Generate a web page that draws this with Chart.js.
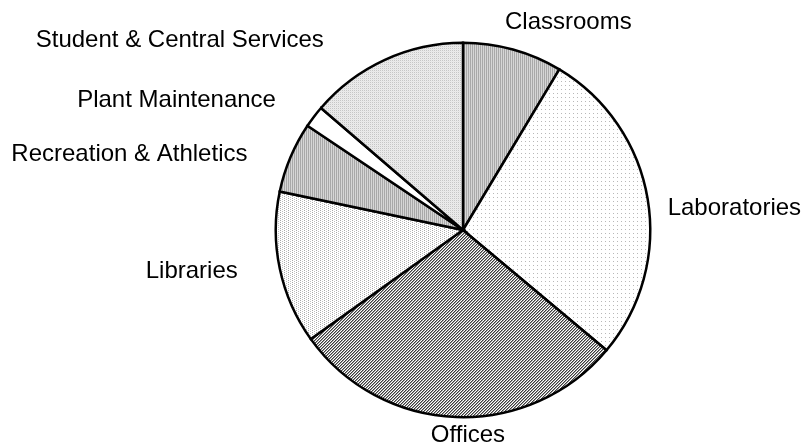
<!DOCTYPE html>
<html>
<head>
<meta charset="utf-8">
<script src="https://cdn.jsdelivr.net/npm/chart.js@4.4.1/dist/chart.umd.min.js"></script>
<style>
  html, body { margin: 0; padding: 0; background: #ffffff; }
  #wrap { width: 804px; height: 444px; position: relative; }
</style>
</head>
<body>
<div id="wrap"><canvas id="c" width="804" height="444"></canvas></div>
<script>
// ---- data ----
const categories = [
  "Classrooms",
  "Laboratories",
  "Offices",
  "Libraries",
  "Recreation & Athletics",
  "Plant Maintenance",
  "Student & Central Services"
];
const shares = [8.6, 27.5, 29.0, 13.2, 6.1, 1.9, 13.7];

// ---- patterns (style) ----
function makePattern(w, h, painter) {
  const c = document.createElement('canvas');
  c.width = w; c.height = h;
  const g = c.getContext('2d');
  painter(g, w, h);
  return document.getElementById('c').getContext('2d').createPattern(c, 'repeat');
}
function px(g, x, y, col) { g.fillStyle = col; g.fillRect(x, y, 1, 1); }

const patVertical = makePattern(2, 2, (g) => {
  px(g, 0, 0, '#a8a8a8'); px(g, 0, 1, '#a8a8a8');
  px(g, 1, 0, '#d6d6d6'); px(g, 1, 1, '#d6d6d6');
});
const patSparseDots = makePattern(4, 4, (g) => {
  g.fillStyle = '#ffffff'; g.fillRect(0, 0, 4, 4);
  px(g, 1, 1, '#b8b8b8');
});
const patHatch = makePattern(3, 3, (g) => {
  for (let x = 0; x < 3; x++) for (let y = 0; y < 3; y++) {
    const k = (x + y) % 3;
    px(g, x, y, k === 0 ? '#3c3c3c' : (k === 1 ? '#9c9c9c' : '#ffffff'));
  }
});
const patDotLines = makePattern(4, 4, (g) => {
  g.fillStyle = '#ffffff'; g.fillRect(0, 0, 4, 4);
  px(g, 0, 0, '#a8a8a8'); px(g, 0, 2, '#a8a8a8');
  px(g, 2, 1, '#c0c0c0'); px(g, 2, 3, '#c0c0c0');
});
const patGrid = makePattern(2, 2, (g) => {
  px(g, 0, 0, '#c6c6c6'); px(g, 1, 0, '#ececec');
  px(g, 0, 1, '#ececec'); px(g, 1, 1, '#e6e6e6');
});
const fills = [patVertical, patSparseDots, patHatch, patDotLines, patVertical, '#ffffff', patGrid];

// label placement relative to each slice's outer-edge midpoint (style)
const labelStyle = [
  { align: 'left',   ox: -8,  oy: -27 },
  { align: 'left',   ox: 20,  oy: 9 },
  { align: 'center', ox: 12,  oy: 18 },
  { align: 'right',  ox: -42, oy: 3 },
  { align: 'right',  ox: -43, oy: -3 },
  { align: 'right',  ox: -38, oy: -16 },
  { align: 'right',  ox: -61, oy: -19 }
];

const labelPlugin = {
  id: 'sliceLabels',
  afterDraw(chart) {
    const ctx = chart.ctx;
    const meta = chart.getDatasetMeta(0);
    ctx.save();
    ctx.font = '24px "Liberation Sans", Arial, sans-serif';
    ctx.fillStyle = '#000000';
    ctx.textBaseline = 'middle';
    meta.data.forEach((arc, i) => {
      const p = arc.getProps(['x', 'y', 'startAngle', 'endAngle', 'outerRadius'], true);
      const mid = (p.startAngle + p.endAngle) / 2;
      const ex = p.x + p.outerRadius * Math.cos(mid);
      const ey = p.y + p.outerRadius * Math.sin(mid);
      const s = labelStyle[i];
      ctx.textAlign = s.align;
      ctx.fillText(chart.data.labels[i], ex + s.ox, ey + s.oy);
    });
    ctx.restore();
  }
};

new Chart(document.getElementById('c'), {
  type: 'pie',
  data: {
    labels: categories,
    datasets: [{
      data: shares,
      backgroundColor: fills,
      borderColor: '#000000',
      borderWidth: 2.5,
      borderJoinStyle: 'miter'
    }]
  },
  options: {
    responsive: false,
    animation: false,
    devicePixelRatio: 1,
    layout: { padding: { left: 274.5, right: 152.5, top: 41.5, bottom: 25.5 } },
    plugins: {
      legend: { display: false },
      tooltip: { enabled: false }
    }
  },
  plugins: [labelPlugin]
});
</script>
</body>
</html>
